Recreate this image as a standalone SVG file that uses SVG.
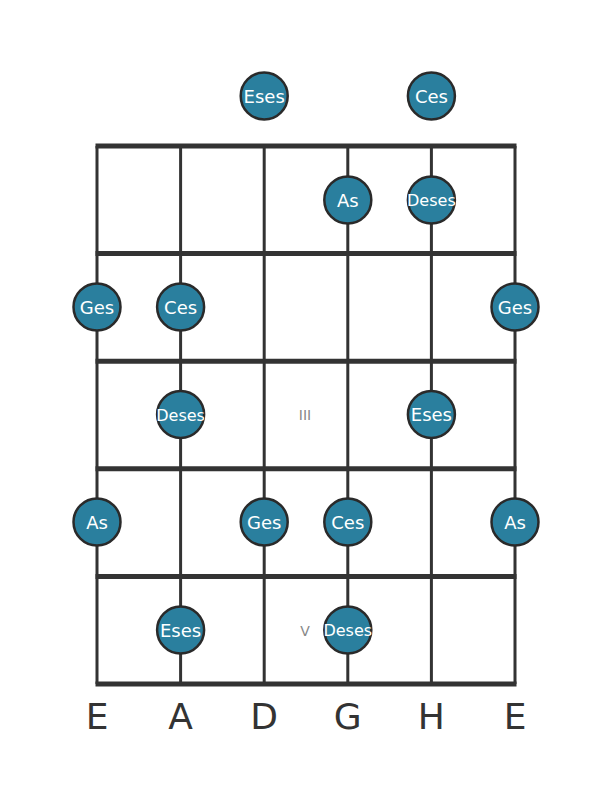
<svg xmlns="http://www.w3.org/2000/svg" width="611" height="801" viewBox="0 0 611 801">
<style>
.str{stroke:#333;stroke-width:3;fill:none}
.fret{stroke:#333;stroke-width:5;fill:none}
.dot{fill:#2a7f9e;stroke:#2a2a2a;stroke-width:2.5}
.nt{fill:#fff;font-family:"DejaVu Sans",sans-serif;font-size:18px;text-anchor:middle}
.nt.s{font-size:16px}
.mk{fill:#888;font-family:"DejaVu Sans",sans-serif;font-size:14px;text-anchor:middle}
.sl{fill:#333;font-family:"DejaVu Sans",sans-serif;font-size:36px;text-anchor:middle}
</style>
<rect width="611" height="801" fill="#fff"/>
<g id="board">
<g id="strings">
<line class="str" x1="97" y1="146" x2="97" y2="684"/>
<line class="str" x1="180.6" y1="146" x2="180.6" y2="684"/>
<line class="str" x1="264.2" y1="146" x2="264.2" y2="684"/>
<line class="str" x1="347.8" y1="146" x2="347.8" y2="684"/>
<line class="str" x1="431.4" y1="146" x2="431.4" y2="684"/>
<line class="str" x1="515" y1="146" x2="515" y2="684"/>
</g>
<g id="frets">
<line class="fret" x1="95.5" y1="146" x2="516.5" y2="146"/>
<line class="fret" x1="95.5" y1="253.6" x2="516.5" y2="253.6"/>
<line class="fret" x1="95.5" y1="361.2" x2="516.5" y2="361.2"/>
<line class="fret" x1="95.5" y1="468.8" x2="516.5" y2="468.8"/>
<line class="fret" x1="95.5" y1="576.4" x2="516.5" y2="576.4"/>
<line class="fret" x1="95.5" y1="684" x2="516.5" y2="684"/>
</g>
<text class="mk" x="305" y="420">III</text>
<text class="mk" x="305" y="636">V</text>
</g>
<g id="n-open-D"><circle class="dot" cx="264.2" cy="96" r="23.5"/><text class="nt" x="264.2" y="102.5">Eses</text></g>
<g id="n-open-H"><circle class="dot" cx="431.4" cy="96" r="23.5"/><text class="nt" x="431.4" y="102.5">Ces</text></g>
<g id="n-1-G"><circle class="dot" cx="347.8" cy="200" r="23.5"/><text class="nt" x="347.8" y="206.5">As</text></g>
<g id="n-1-H"><circle class="dot" cx="431.4" cy="200" r="23.5"/><text class="nt s" x="431.4" y="206">Deses</text></g>
<g id="n-2-E"><circle class="dot" cx="97" cy="307" r="23.5"/><text class="nt" x="97" y="313.5">Ges</text></g>
<g id="n-2-A"><circle class="dot" cx="180.6" cy="307" r="23.5"/><text class="nt" x="180.6" y="313.5">Ces</text></g>
<g id="n-2-e"><circle class="dot" cx="515" cy="307" r="23.5"/><text class="nt" x="515" y="313.5">Ges</text></g>
<g id="n-3-A"><circle class="dot" cx="180.6" cy="414.5" r="23.5"/><text class="nt s" x="180.6" y="420.5">Deses</text></g>
<g id="n-3-H"><circle class="dot" cx="431.4" cy="414.5" r="23.5"/><text class="nt" x="431.4" y="421">Eses</text></g>
<g id="n-4-E"><circle class="dot" cx="97" cy="522" r="23.5"/><text class="nt" x="97" y="528.5">As</text></g>
<g id="n-4-D"><circle class="dot" cx="264.2" cy="522" r="23.5"/><text class="nt" x="264.2" y="528.5">Ges</text></g>
<g id="n-4-G"><circle class="dot" cx="347.8" cy="522" r="23.5"/><text class="nt" x="347.8" y="528.5">Ces</text></g>
<g id="n-4-e"><circle class="dot" cx="515" cy="522" r="23.5"/><text class="nt" x="515" y="528.5">As</text></g>
<g id="n-5-A"><circle class="dot" cx="180.6" cy="630" r="23.5"/><text class="nt" x="180.6" y="636.5">Eses</text></g>
<g id="n-5-G"><circle class="dot" cx="347.8" cy="630" r="23.5"/><text class="nt s" x="347.8" y="636">Deses</text></g>
<g id="labels">
<text class="sl" x="97" y="729">E</text>
<text class="sl" x="180.6" y="729">A</text>
<text class="sl" x="264.2" y="729">D</text>
<text class="sl" x="347.8" y="729">G</text>
<text class="sl" x="431.4" y="729">H</text>
<text class="sl" x="515" y="729">E</text>
</g>
</svg>
